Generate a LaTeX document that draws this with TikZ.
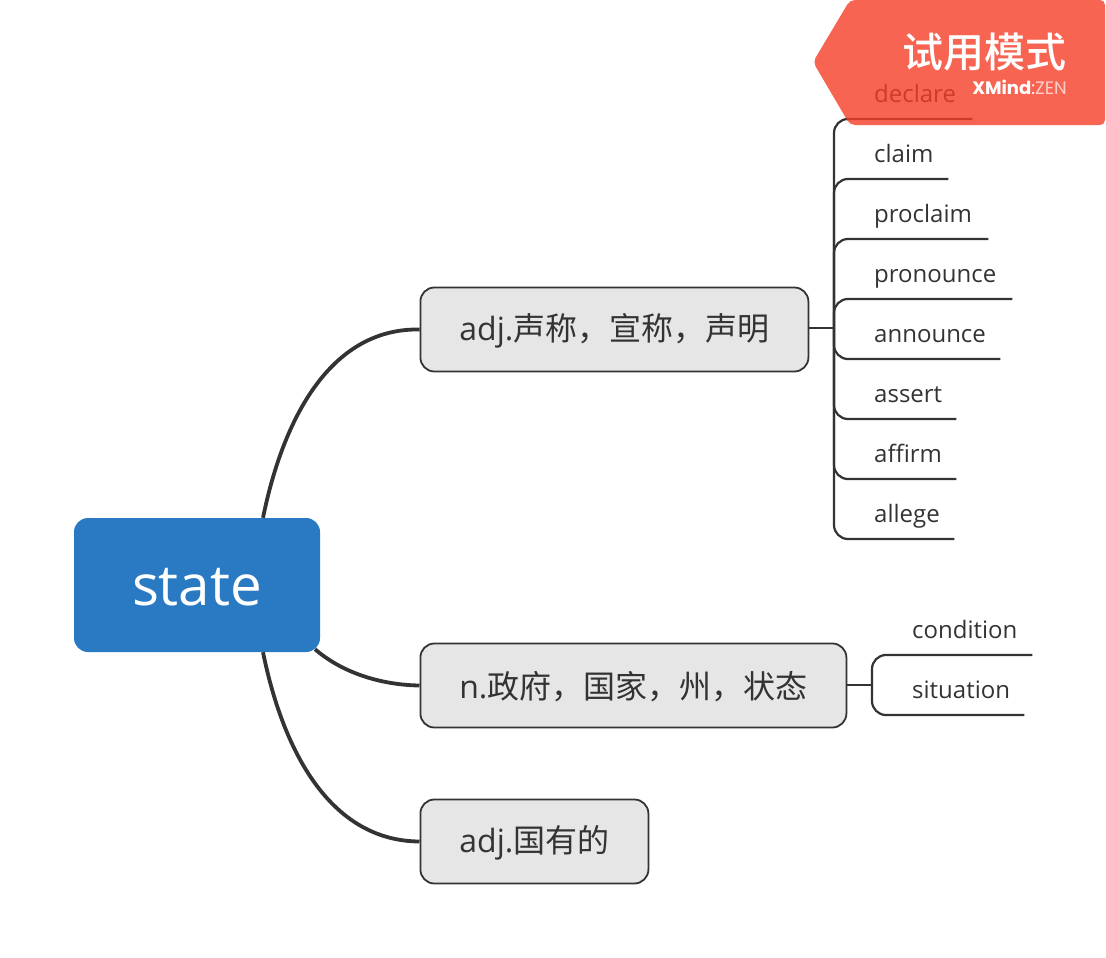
\documentclass[tikz,border=0pt]{standalone}
\usepackage{fontspec}
\setmainfont{Open Sans}
\newfontfamily\cjk{Noto Sans CJK SC}
\newfontfamily\badgefont{Noto Sans CJK SC Medium}
\newfontfamily\logofont{Poppins}
\newcommand{\widecomma}{\char"FF0C }
\newcommand{\lowered}[2]{\raisebox{-#1}[\height][\depth]{#2}}
\definecolor{rootblue}{HTML}{2A7AC3}
\definecolor{inkgray}{HTML}{333333}
\definecolor{boxgray}{HTML}{E6E6E6}
\definecolor{badgered}{HTML}{F53E27}
\tikzset{
  root/.style={fill=rootblue,text=white,rounded corners=14pt,minimum width=246pt,minimum height=134pt,font=\fontsize{56.5}{56.5}\selectfont},
  sense/.style={draw=inkgray,fill=boxgray,text=inkgray,line width=1.8pt,rounded corners=14pt,minimum height=84pt,anchor=west,font=\fontsize{32}{32}\selectfont},
  leaf/.style={anchor=south west,inner xsep=14pt,inner ysep=0pt,align=left,text=inkgray,text height=19pt,text depth=16pt,font=\fontsize{24}{24}\selectfont},
  limb/.style={inkgray,line width=3.8pt},
  stem/.style={inkgray,line width=2.6pt},
  twig/.style={inkgray,line width=2.2pt,rounded corners=14pt}
}
\begin{document}
\begin{tikzpicture}[x=1pt,y=-1pt]
	\useasboundingbox (0,0) rectangle (1106,958);
	\node[root] (state) at (197,585) {\lowered{2pt}{state}};
	\node[sense,minimum width=388pt] (adjclaim) at (419.5,329.5) {\lowered{1pt}{adj.{\cjk 声称\widecomma 宣称\widecomma 声明}}};
	\node[sense,minimum width=426pt] (noun) at (419.5,685.5) {\lowered{1pt}{n.{\cjk 政府\widecomma 国家\widecomma 州\widecomma 状态}}};
	\node[sense,minimum width=228pt] (adjown) at (419.5,841.5) {\lowered{1pt}{adj.{\cjk 国有的}}};
	% main branches
	\draw[limb] ([xshift=66pt]state.north) .. controls (285,410) and (335,328) .. (adjclaim.west);
	\draw[limb] ([xshift=118pt,yshift=3pt]state.south) .. controls (345,675) and (385,685) .. (noun.west);
	\draw[limb] ([xshift=66pt]state.south) .. controls (285,760) and (335,841) .. (adjown.west);
	% words of the first sense
	\node[leaf,text width=84pt] (declare) at (860,119) {declare};
	\node[leaf,text width=60pt] (claim) at (860,179) {claim};
	\node[leaf,text width=100pt] (proclaim) at (860,239) {proclaim};
	\node[leaf,text width=124pt] (pronounce) at (860,299) {pronounce};
	\node[leaf,text width=112pt] (announce) at (860,359) {announce};
	\node[leaf,text width=68pt] (assert) at (860,419) {assert};
	\node[leaf,text width=68pt] (affirm) at (860,479) {affirm};
	\node[leaf,text width=66pt] (allege) at (860,539) {allege};
	\coordinate (forka) at (834,328);
	\draw[stem] (forka -| adjclaim.east) -- (forka);
	\draw[twig] (forka) |- (declare.south west) -- (declare.south east);
	\draw[twig] (forka) |- (claim.south west) -- (claim.south east);
	\draw[twig] (forka) |- (proclaim.south west) -- (proclaim.south east);
	\draw[twig] (forka) |- (pronounce.south west) -- (pronounce.south east);
	\draw[twig] (forka) |- (announce.south west) -- (announce.south east);
	\draw[twig] (forka) |- (assert.south west) -- (assert.south east);
	\draw[twig] (forka) |- (affirm.south west) -- (affirm.south east);
	\draw[twig] (forka) |- (allege.south west) -- (allege.south east);
	% words of the second sense
	\node[leaf,text width=106pt] (condition) at (898,655) {condition};
	\node[leaf,text width=98pt] (situation) at (898,715) {situation};
	\coordinate (forkb) at (872,685);
	\draw[stem] (forkb -| noun.east) -- (forkb);
	\draw[twig] (forkb) |- (condition.south west) -- (condition.south east);
	\draw[twig] (forkb) |- (situation.south west) -- (situation.south east);
	% trial badge
	\fill[badgered,opacity=.8,rounded corners=5pt] (850,0) -- (1105,0) -- (1105,125) -- (850,125) -- (813,62) -- cycle;
	\node[anchor=east,inner sep=0pt,text=white,font=\badgefont\fontsize{41}{41}\selectfont] (trial) at (1067,52) {试用模式};
	\node[anchor=east,inner sep=0pt,text=white,font=\logofont\fontsize{18}{18}\selectfont] (brand) at (1067,87) {\textbf{XMind}:{\color{white!75!badgered}ZEN}};
\end{tikzpicture}
\end{document}
